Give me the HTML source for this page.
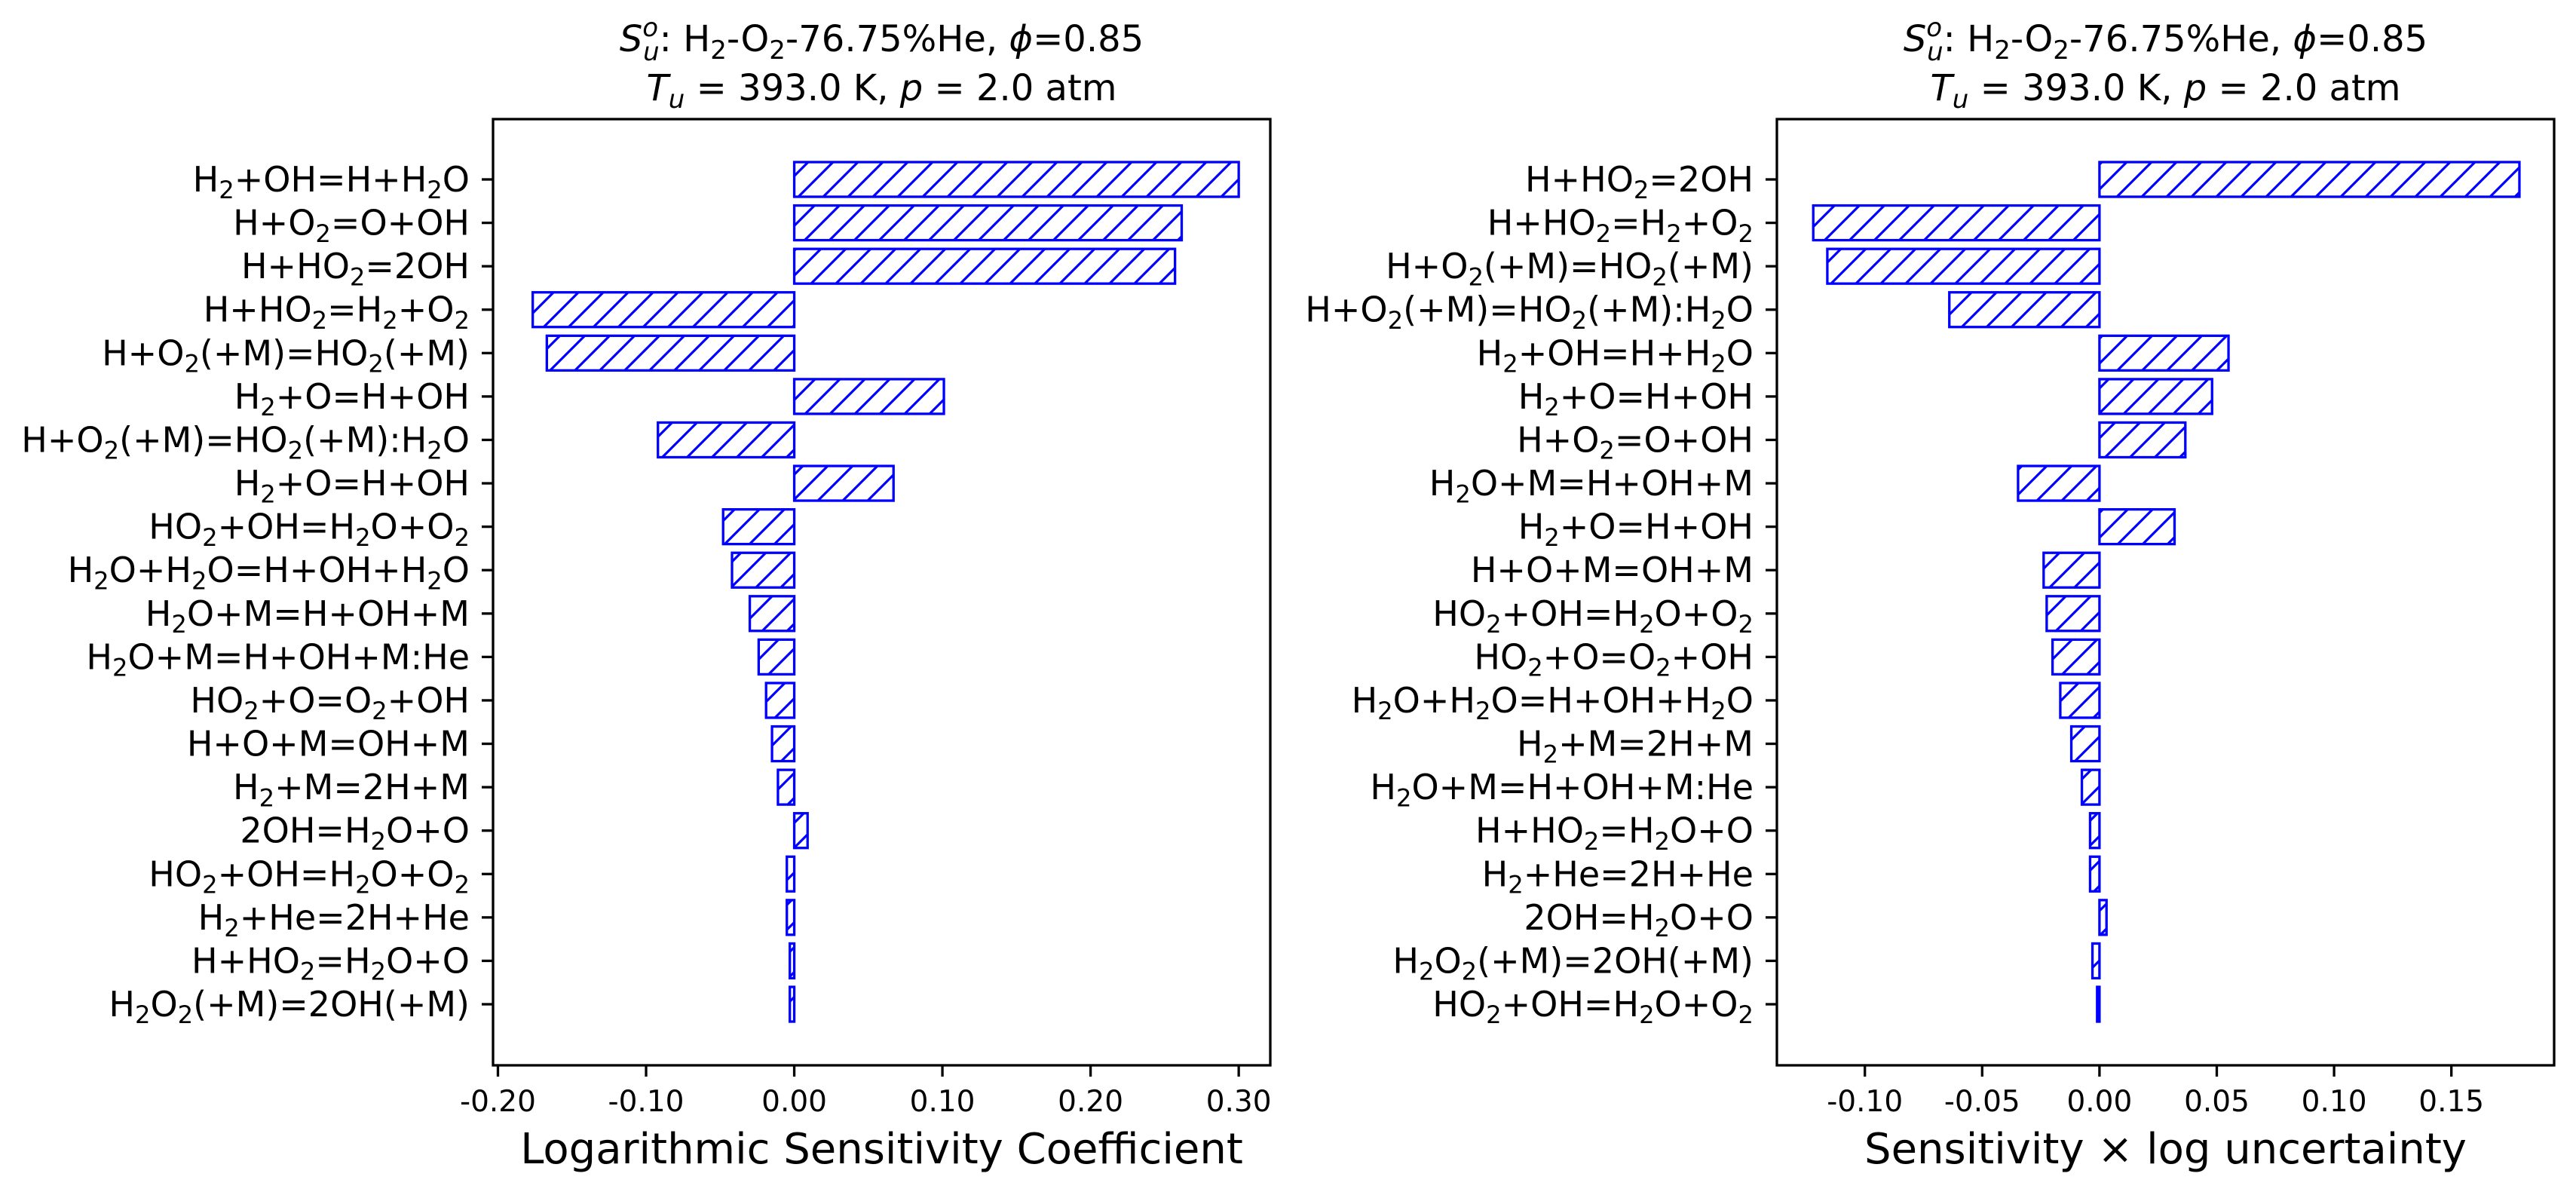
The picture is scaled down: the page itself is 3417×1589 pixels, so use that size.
<!DOCTYPE html>
<html><head><meta charset="utf-8"><style>
html,body{margin:0;padding:0;background:#fff;}
svg{display:block;font-family:"DejaVu Sans","Liberation Sans",sans-serif;}
</style></head><body>
<svg id="fig" width="3417" height="1589" viewBox="0 0 3417 1589" xmlns="http://www.w3.org/2000/svg">
<defs>
<pattern id="hatch" patternUnits="userSpaceOnUse" width="33" height="33">
<path d="M-4,37 L37,-4 M-8,8 L8,-8 M25,41 L41,25" stroke="#0000ff" stroke-width="3.2" fill="none"/>
</pattern>
</defs>
</svg>
<script>
// ---- data ----
const leftLabels = ["H2+OH=H+H2O","H+O2=O+OH","H+HO2=2OH","H+HO2=H2+O2","H+O2(+M)=HO2(+M)","H2+O=H+OH","H+O2(+M)=HO2(+M):H2O","H2+O=H+OH","HO2+OH=H2O+O2","H2O+H2O=H+OH+H2O","H2O+M=H+OH+M","H2O+M=H+OH+M:He","HO2+O=O2+OH","H+O+M=OH+M","H2+M=2H+M","2OH=H2O+O","HO2+OH=H2O+O2","H2+He=2H+He","H+HO2=H2O+O","H2O2(+M)=2OH(+M)"];
const leftValues = [0.300,0.2615,0.257,-0.1765,-0.167,0.101,-0.092,0.067,-0.048,-0.042,-0.030,-0.024,-0.019,-0.015,-0.011,0.009,-0.005,-0.005,-0.003,-0.003];
const leftTicks = [-0.2,-0.1,0.0,0.1,0.2,0.3];
const leftTickLabels = ["-0.20","-0.10","0.00","0.10","0.20","0.30"];
const rightLabels = ["H+HO2=2OH","H+HO2=H2+O2","H+O2(+M)=HO2(+M)","H+O2(+M)=HO2(+M):H2O","H2+OH=H+H2O","H2+O=H+OH","H+O2=O+OH","H2O+M=H+OH+M","H2+O=H+OH","H+O+M=OH+M","HO2+OH=H2O+O2","HO2+O=O2+OH","H2O+H2O=H+OH+H2O","H2+M=2H+M","H2O+M=H+OH+M:He","H+HO2=H2O+O","H2+He=2H+He","2OH=H2O+O","H2O2(+M)=2OH(+M)","HO2+OH=H2O+O2"];
const rightValues = [0.179,-0.122,-0.116,-0.064,0.055,0.048,0.0366,-0.0347,0.032,-0.0238,-0.0225,-0.020,-0.0167,-0.012,-0.0075,-0.004,-0.004,0.003,-0.003,-0.001];
const rightTicks = [-0.10,-0.05,0.0,0.05,0.10,0.15];
const rightTickLabels = ["-0.10","-0.05","0.00","0.05","0.10","0.15"];

const NS="http://www.w3.org/2000/svg";
const svg=document.getElementById('fig');
function mk(tag,attrs,parent){const e=document.createElementNS(NS,tag);for(const k in attrs)e.setAttribute(k,attrs[k]);(parent||svg).appendChild(e);return e;}

function chemText(parent,str,x,y,fs){
  const t=mk('text',{x:x,y:y,'font-size':fs,'text-anchor':'end',fill:'#000'},parent);
  let i=0;
  while(i<str.length){
    const c=str[i];
    const isSub=/[0-9]/.test(c)&&i>0&&/[A-Za-z]/.test(str[i-1]);
    if(isSub){
      const s=mk('tspan',{'font-size':fs*0.7,dy:fs*0.2},t);s.textContent=c;
      const r=mk('tspan',{dy:-fs*0.2},t);r.textContent='\u200B';
    } else {
      let j=i;let buf='';
      while(j<str.length&&!(/[0-9]/.test(str[j])&&j>0&&/[A-Za-z]/.test(str[j-1]))){buf+=str[j];j++;}
      const s=mk('tspan',{},t);s.textContent=buf;i=j;continue;
    }
    i++;
  }
  return t;
}

function panel(opt){
  const g=mk('g',{});
  
  
  const L=opt.left,R=opt.right,T=158,B=1413;
  const xs=v=>L+(v-opt.xmin)/(opt.xmax-opt.xmin)*(R-L);
  const ys=i=>238+i*57.58;
  const bh=46;
  opt.values.forEach((v,i)=>{
    const x0=Math.min(xs(0),xs(v)),w=Math.abs(xs(v)-xs(0));
    const r=mk('rect',{x:x0,y:ys(i)-bh/2,width:Math.max(w,0.5),height:bh,fill:'url(#hatch)',stroke:'#0000ff','stroke-width':3.3},g);
    
    
  });
  const frame=mk('rect',{x:L,y:T,width:R-L,height:B-T,fill:'none',stroke:'#000','stroke-width':3.3},g);
  
  
  opt.labels.forEach((lab,i)=>{
    mk('line',{x1:L-15,x2:L,y1:ys(i),y2:ys(i),stroke:'#000','stroke-width':3.3},g);
    const t=chemText(g,lab,L-31,ys(i)+16,46);
    
    
  });
  opt.ticks.forEach((v,i)=>{
    mk('line',{x1:xs(v),x2:xs(v),y1:B,y2:B+15,stroke:'#000','stroke-width':3.3},g);
    const t=mk('text',{x:xs(v),y:1474,'font-size':39,'text-anchor':'middle'},g);
    t.textContent=opt.tickLabels[i];
    
    
  });
  const xl=mk('text',{x:(L+R)/2,y:1543,'font-size':56,'text-anchor':'middle'},g);
  xl.textContent=opt.xlabel;
  
  
  const cx=(L+R)/2;
  const t1=mk('text',{x:cx,y:68,'font-size':48,'text-anchor':'middle'},g);
  t1.innerHTML='<tspan font-style="italic">S</tspan><tspan font-size="34" dy="-20" font-style="italic">o</tspan><tspan font-size="34" dx="-20" dy="32" font-style="italic">u</tspan><tspan dy="-12">: H</tspan><tspan font-size="34" dy="10">2</tspan><tspan dy="-10">-O</tspan><tspan font-size="34" dy="10">2</tspan><tspan dy="-10">-76.75%He, </tspan><tspan font-style="italic">ϕ</tspan><tspan>=0.85</tspan>';
  
  
  const t2=mk('text',{x:cx,y:133,'font-size':48,'text-anchor':'middle'},g);
  t2.innerHTML='<tspan font-style="italic">T</tspan><tspan font-size="34" dy="10" font-style="italic">u</tspan><tspan dy="-10"> = 393.0 K, </tspan><tspan font-style="italic">p</tspan><tspan> = 2.0 atm</tspan>';
  
  
}

panel({name:'left-sensitivity-chart',left:654,right:1685,xmin:-0.2033,xmax:0.3213,values:leftValues,labels:leftLabels,ticks:leftTicks,tickLabels:leftTickLabels,xlabel:'Logarithmic Sensitivity Coefficient'});
panel({name:'right-uncertainty-chart',left:2357,right:3388,xmin:-0.1375,xmax:0.1938,values:rightValues,labels:rightLabels,ticks:rightTicks,tickLabels:rightTickLabels,xlabel:'Sensitivity \u00d7 log uncertainty'});
</script>
</body></html>
